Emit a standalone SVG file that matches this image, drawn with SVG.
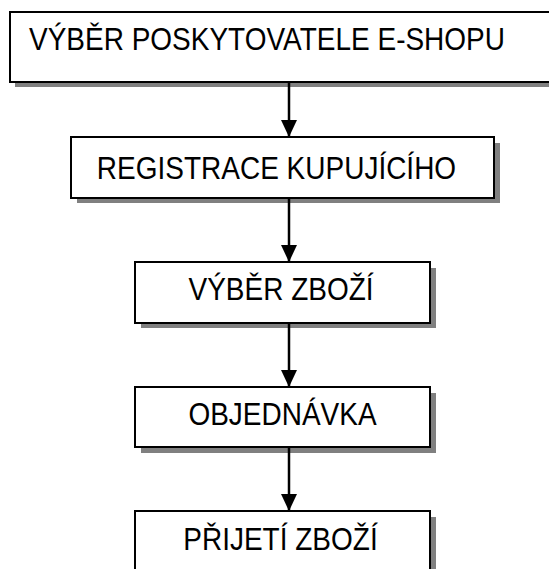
<svg xmlns="http://www.w3.org/2000/svg" width="549" height="569" viewBox="0 0 549 569">
  <style>
    .shadow { fill: #808080; }
    .box { fill: #ffffff; stroke: #000000; stroke-width: 2; }
    .label { font-family: "Liberation Sans", Arial, sans-serif; font-size: 28px; fill: #000000; text-anchor: middle; }
    .conn { stroke: #000000; stroke-width: 2.5; fill: none; }
  </style>
  <defs>
    <marker id="arrow" markerUnits="userSpaceOnUse" markerWidth="17" markerHeight="16" refX="17" refY="8" orient="auto">
      <path d="M0,0 L17,8 L0,16 Z" fill="#000000"/>
    </marker>
  </defs>

  <rect width="549" height="569" fill="#ffffff"/>

  <!-- process steps -->
  <g id="step-provider">
    <rect class="shadow" x="15" y="17" width="545" height="70"/>
    <rect class="box" x="10" y="12" width="545" height="70"/>
    <text class="label" transform="translate(267 50) scale(1 1.12)">VÝBĚR POSKYTOVATELE E-SHOPU</text>
  </g>

  <g id="step-registration">
    <rect class="shadow" x="77" y="143" width="423" height="60"/>
    <rect class="box" x="71" y="137" width="423" height="61"/>
    <text class="label" transform="translate(276.5 179) scale(1 1.12)">REGISTRACE KUPUJÍCÍHO</text>
  </g>

  <g id="step-goods">
    <rect class="shadow" x="141" y="268" width="295" height="60"/>
    <rect class="box" x="135" y="262" width="295" height="61"/>
    <text class="label" transform="translate(281 300) scale(1 1.12)">VÝBĚR ZBOŽÍ</text>
  </g>

  <g id="step-order">
    <rect class="shadow" x="141" y="393" width="295" height="60"/>
    <rect class="box" x="135" y="387" width="295" height="60"/>
    <text class="label" transform="translate(282.5 425) scale(1 1.12)">OBJEDNÁVKA</text>
  </g>

  <g id="step-receipt">
    <rect class="shadow" x="141" y="517" width="295" height="70"/>
    <rect class="box" x="135" y="511" width="295" height="70"/>
    <text class="label" transform="translate(280.5 550) scale(1 1.12)">PŘIJETÍ ZBOŽÍ</text>
  </g>

  <!-- connectors -->
  <g id="connectors">
    <line class="conn" x1="289" y1="82" x2="289" y2="137" marker-end="url(#arrow)"/>
    <line class="conn" x1="289" y1="198" x2="289" y2="262" marker-end="url(#arrow)"/>
    <line class="conn" x1="289" y1="323" x2="289" y2="387" marker-end="url(#arrow)"/>
    <line class="conn" x1="289" y1="447" x2="289" y2="511" marker-end="url(#arrow)"/>
  </g>
</svg>
